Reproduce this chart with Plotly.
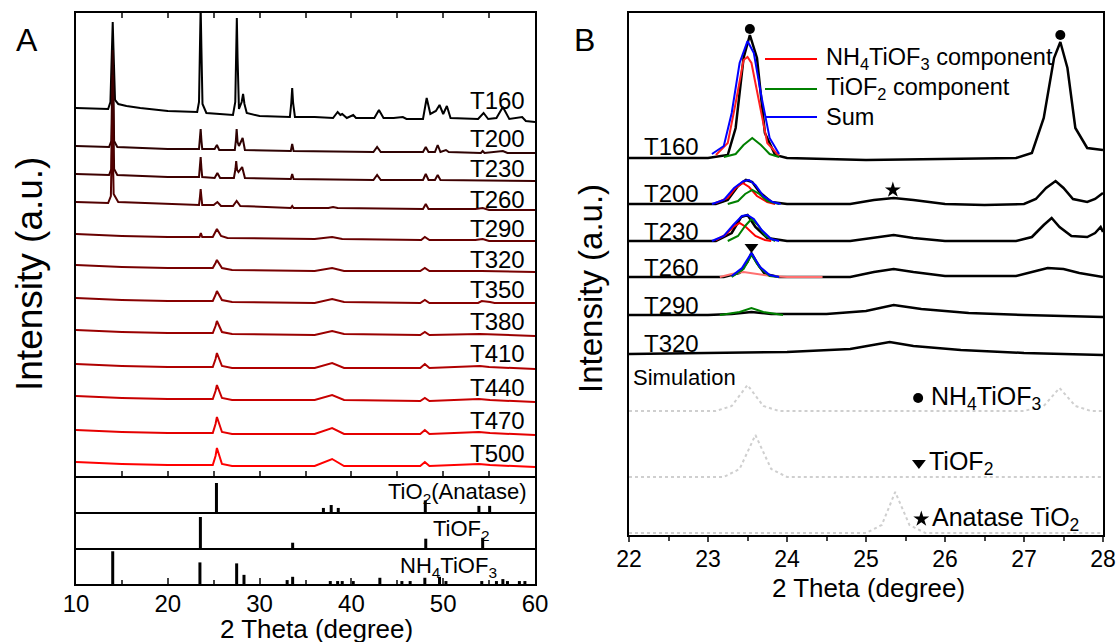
import plotly.graph_objects as go

W, H = 1118, 642
FONT = "Liberation Sans, Arial, sans-serif"


def px(x):
    return x / W


def py(y):
    return 1 - y / H


# ================= Panel A : XRD patterns (2theta, intensity above own baseline) =================
labels_A = ["T160", "T200", "T230", "T260", "T290", "T320", "T350", "T380", "T410", "T440", "T470", "T500"]
offsets_A = [368, 330, 302, 274, 242, 211, 178, 146, 112, 80, 46, 14]
colors_A = ["#000000", "#2e0202", "#3e0000", "#520000", "#680000", "#780000", "#880000",
            "#9a0000", "#b00000", "#c80000", "#e50000", "#ff0000"]

T160 = [(10, 0), (12, -1), (13.5, -1), (13.75, 6), (13.92, 60), (14.0, 86), (14.08, 60), (14.25, 8), (14.6, 4),
        (15.5, 2), (17, 0), (20, -3), (23.2, -4), (23.4, 6), (23.5, 60), (23.58, 102), (23.66, 60), (23.78, 4),
        (24.2, -5), (27.1, -7), (27.35, 6), (27.45, 60), (27.52, 90), (27.6, 50), (27.75, -1), (28.05, 6),
        (28.2, 14), (28.35, 4), (28.6, -5), (30, -8), (33.3, -9), (33.45, 5), (33.55, 20), (33.65, 5), (33.85, -9),
        (36, -9), (38.0, -10), (38.5, -4), (38.8, -7), (39.0, -6), (39.5, -10), (40.2, -7), (40.5, -10),
        (42.5, -10), (43.0, -2), (43.5, -10), (44.6, -10), (45.6, -9), (46, -11), (47.8, -11), (48.2, 10),
        (48.6, -6), (49.2, -3), (49.6, 3), (50.0, -6), (50.4, 2), (50.8, -10), (53.8, -11), (54.4, -5),
        (54.9, -11), (55.8, -10), (56.5, 1), (57.2, -11), (58.6, -9), (59, -13), (60, -14)]
T200 = [(10, 0), (13.6, -1), (13.85, 5), (13.93, 60), (14.0, 96), (14.07, 60), (14.15, 5), (14.5, -1), (20, -3),
        (23.4, -3), (23.5, 6), (23.58, 17), (23.66, 6), (23.75, -3), (25.1, -3), (25.35, 1), (25.6, -4),
        (27.3, -4), (27.42, 6), (27.5, 17), (27.6, 4), (27.75, 0), (28.15, 8), (28.4, -4), (33.4, -5),
        (33.55, 2), (33.7, -5), (42.4, -6), (42.8, -1), (43.2, -6), (47.8, -6), (48.1, -1), (48.4, -6),
        (49.1, -6), (49.4, 1), (49.7, -6), (50.3, -4), (50.6, -6), (54.1, -7), (54.3, -5), (54.5, -7),
        (56.5, -5), (57, -7), (60, -7)]
T230 = [(10, 0), (13.6, -1), (13.85, 5), (13.93, 60), (14.0, 99), (14.07, 60), (14.15, 5), (14.5, -1), (20, -3),
        (23.4, -3), (23.5, 6), (23.58, 17), (23.66, 6), (23.75, -3), (25.1, -4), (25.4, 1), (25.7, -4),
        (27.2, -4), (27.37, 5), (27.45, 13), (27.55, 4), (27.7, 2), (28.1, 7), (28.4, -4), (33.4, -5),
        (33.55, 0), (33.7, -5), (42.4, -6), (42.8, -1), (43.2, -6), (47.8, -6), (48.1, 0), (48.4, -6),
        (49.1, -6), (49.4, -1), (49.7, -6), (60, -7)]
T260 = [(10, 0), (13.5, -1), (13.8, 6), (13.88, 50), (13.95, 82), (14.02, 50), (14.1, 8), (14.6, 0), (20, -2),
        (23.4, -3), (23.5, 5), (23.58, 13), (23.66, 5), (23.75, -3), (25.0, -3), (25.4, 0), (25.8, -4),
        (27.1, -4), (27.5, 1), (27.9, -4), (33.4, -6), (33.55, -4), (33.7, -6), (37.5, -6), (38, -5),
        (38.5, -6), (47.8, -7), (48.1, -2), (48.4, -7), (53.5, -7), (54.3, -6), (55, -8), (60, -8)]
T290 = [(10, 0), (15, -2), (20, -3), (23.45, -3), (23.6, 1), (23.75, -3), (24.9, -3), (25.2, 2), (25.35, 5),
        (25.8, -2), (26.5, -4), (36, -5), (37.9, -3), (39, -5), (47.6, -6), (48.0, -3), (48.5, -6),
        (53.5, -6), (54.3, -5), (55, -7), (60, -7)]
T320 = [(10, 0), (15, -2), (20, -3), (24.9, -3), (25.2, 2), (25.35, 5), (25.9, -3), (27, -5), (36, -6),
        (37.9, -3), (39.2, -6), (47.5, -6), (48.0, -3), (48.5, -6), (54.2, -6), (60, -7)]
T350 = [(10, 0), (15, -2), (20, -3), (24.9, -3), (25.2, 3), (25.35, 7), (25.9, -2), (27, -4), (36, -5),
        (37.9, -1), (39.2, -4), (47.5, -5), (48.0, -2), (48.5, -5), (53.8, -5), (54.2, -3), (55.1, -4),
        (55.6, -5), (60, -5)]
T380 = [(10, 0), (15, -2), (20, -3), (24.9, -3), (25.2, 4), (25.35, 9), (25.9, -2), (27, -4), (36, -5),
        (37.9, -1), (39.2, -4), (47.5, -5), (48.0, -2), (48.5, -5), (54, -4), (60, -6)]
T410 = [(10, 0), (15, -2), (20, -3), (24.9, -3), (25.2, 5), (25.35, 11), (25.9, -2), (27, -4), (36, -4),
        (37.9, 1), (39.2, -4), (47.5, -4), (48.0, 0), (48.5, -4), (54, -2), (55, -3), (60, -5)]
T440 = [(10, 0), (15, -2), (20, -3), (24.9, -3), (25.2, 5), (25.35, 11), (25.9, -2), (27, -4), (36, -4),
        (37.9, 1), (39.2, -4), (47.5, -5), (48.0, -2), (48.5, -5), (53.9, -3), (55.1, -4), (60, -6)]
T470 = [(10, 0), (15, -2), (20, -3), (24.9, -3), (25.2, 6), (25.35, 13), (25.9, -2), (27, -4), (36, -4),
        (37.9, 2), (39.2, -4), (47.5, -4), (48.0, 0), (48.5, -4), (53.9, -2), (55.1, -3), (60, -5)]
T500 = [(10, 0), (15, -2), (20, -3), (24.9, -3), (25.2, 6), (25.35, 14), (25.9, -2), (27, -4), (36, -4),
        (37.9, 3), (39.2, -4), (47.5, -4), (48.0, 0), (48.5, -4), (53.9, -2), (55.1, -3), (60, -5)]
patterns_A = [T160, T200, T230, T260, T290, T320, T350, T380, T410, T440, T470, T500]

# Reference stick patterns (2theta, relative intensity)
anatase_pos = [25.3, 36.95, 37.8, 38.57, 48.05, 53.89, 55.06]
anatase_int = [100, 14, 24, 14, 40, 21, 21]
tiof2_pos = [23.55, 33.6, 48.1, 54.3]
tiof2_int = [100, 17, 30, 33]
nh4_pos = [14.0, 23.5, 27.5, 28.3, 33.0, 33.6, 37.7, 38.5, 39.0, 40.2, 43.1, 45.5, 46.4, 48.0, 49.6, 50.3,
           54.2, 55.8, 56.5, 57.0, 58.3, 58.9]
nh4_int = [100, 66, 63, 28, 12, 22, 9, 9, 9, 9, 19, 9, 9, 19, 22, 9, 9, 9, 15, 9, 9, 9]

# ================= Panel B : zoom 22-28 deg =================
labels_B = ["T160", "T200", "T230", "T260", "T290", "T320"]
offsets_B = [377, 331, 294, 258, 220, 181]
B_T160 = [(22, 0), (23.0, 0), (23.25, 3), (23.35, 30), (23.45, 100), (23.53, 123), (23.62, 100), (23.72, 25),
          (23.85, 3), (24, 0), (25, -2), (26, -1), (26.9, 0), (27.1, 5), (27.25, 40), (27.38, 100),
          (27.46, 116), (27.55, 90), (27.65, 30), (27.8, 10), (28, 8)]
B_T200 = [(22, 0), (23.1, 0), (23.25, 4), (23.38, 18), (23.48, 24), (23.56, 22), (23.65, 12), (23.8, 2),
          (24, 0), (24.8, 0), (25.1, 4), (25.35, 6), (25.6, 4), (26, 0), (26.5, -1), (27.0, 0), (27.15, 5),
          (27.28, 16), (27.4, 23), (27.5, 16), (27.62, 5), (27.8, 2), (27.9, 5), (28, 11)]
B_T230 = [(22, 0), (23.1, 0), (23.3, 8), (23.42, 24), (23.5, 26), (23.6, 14), (23.75, 3), (24, 0), (24.8, 0),
          (25.1, 3), (25.35, 6), (25.6, 3), (26, 0), (26.9, 0), (27.1, 4), (27.25, 16), (27.35, 23),
          (27.45, 14), (27.6, 5), (27.8, 4), (27.9, 8), (27.97, 14), (28, 9)]
B_T260 = [(22, 0), (23.2, 0), (23.4, 4), (23.5, 15), (23.55, 24), (23.62, 14), (23.72, 3), (23.9, 0),
          (24.8, 0), (25.1, 5), (25.35, 8), (25.6, 5), (26, 1), (26.9, 1), (27.15, 6), (27.3, 9), (27.5, 8),
          (27.7, 4), (28, 0)]
B_T290 = [(22, 0), (23, 0), (23.3, 1), (23.55, 3), (23.8, 1), (24.5, 1), (25.0, 4), (25.35, 10), (25.7, 6),
          (26.3, 2), (27, 0), (28, -2)]
B_T320 = [(22, 0), (23, 1), (24, 2), (24.8, 5), (25.3, 12), (25.6, 8), (26.2, 4), (27, 1), (28, -1)]
patterns_B = [B_T160, B_T200, B_T230, B_T260, B_T290, B_T320]

# fitted components keyed by series index
fit_red = {
    0: [(23.1, 3), (23.25, 15), (23.35, 55), (23.45, 98), (23.5, 101), (23.55, 95), (23.65, 55), (23.75, 15), (23.9, 2)],
    1: [(23.1, 1), (23.25, 6), (23.35, 16), (23.44, 21), (23.52, 17), (23.62, 8), (23.75, 2), (23.85, 0)],
    2: [(23.1, 1), (23.22, 6), (23.32, 14), (23.4, 18), (23.48, 14), (23.6, 5), (23.72, 1), (23.8, 0)],
    3: [(23.15, 0), (23.3, 3), (23.45, 5), (23.6, 3), (23.8, 1), (24.0, 0), (24.45, 0)],
}
fit_green = {
    0: [(23.2, 1), (23.35, 4), (23.45, 13), (23.56, 20), (23.67, 13), (23.78, 4), (23.9, 1)],
    1: [(23.25, 0), (23.38, 3), (23.47, 10), (23.56, 14), (23.65, 10), (23.75, 3), (23.9, 0)],
    2: [(23.25, 0), (23.38, 5), (23.47, 15), (23.55, 22), (23.63, 16), (23.73, 5), (23.85, 0)],
    3: [(23.3, 0), (23.45, 8), (23.55, 22), (23.65, 10), (23.78, 1), (23.9, 0)],
    4: [(23.15, 0), (23.4, 3), (23.55, 7), (23.7, 3), (23.95, 0)],
}
fit_blue = {
    0: [(23.05, 4), (23.2, 12), (23.3, 45), (23.4, 95), (23.5, 117), (23.58, 105), (23.68, 60), (23.78, 20), (23.9, 4)],
    1: [(23.05, 0), (23.2, 4), (23.33, 16), (23.45, 23), (23.52, 24), (23.6, 19), (23.7, 8), (23.82, 2), (23.92, 0)],
    2: [(23.05, 0), (23.2, 5), (23.32, 16), (23.43, 25), (23.5, 26), (23.58, 22), (23.68, 11), (23.8, 2), (23.9, 0)],
    3: [(23.3, 1), (23.43, 9), (23.55, 24), (23.66, 10), (23.78, 2), (23.9, 0)],
}
red_colors = {0: "#ff2020", 1: "#ff0000", 2: "#ff0000", 3: "#ff7070"}

# simulated patterns
sim_offsets = [124, 58, 2]
sim_NH4 = [(22, 0), (23.1, 0), (23.3, 5), (23.5, 26), (23.7, 5), (23.9, 0), (27.0, 0), (27.25, 5), (27.45, 23),
           (27.65, 5), (27.85, 0), (28, 0)]
sim_TiOF2 = [(22, 0), (23.2, 0), (23.4, 8), (23.6, 42), (23.8, 8), (24.0, 0), (28, 0)]
sim_anatase = [(22, 0), (25.0, 0), (25.2, 8), (25.37, 41), (25.55, 8), (25.75, 0), (28, 0)]
sims = [sim_NH4, sim_TiOF2, sim_anatase]

# peak markers (2theta, y in panel-B units, symbol)
peak_marks = [(23.53, 506, "circle"), (27.46, 500, "circle"), (25.34, 345, "star"), (23.55, 288, "triangle-down")]
key_marks = [(25.66, 137, "circle"), (25.67, 72, "triangle-down"), (25.70, 16, "star")]

fig = go.Figure()

# ---- panel A traces ----
for lab, off, col, pat in zip(labels_A, offsets_A, colors_A, patterns_A):
    fig.add_trace(go.Scatter(x=[p[0] for p in pat], y=[p[1] + off for p in pat], mode="lines",
                             line=dict(color=col, width=2), xaxis="x", yaxis="y", showlegend=False))


def sticks(pos, inten, xa, ya):
    xs, ys = [], []
    for p, v in zip(pos, inten):
        xs += [p, p, None]
        ys += [0, v, None]
    fig.add_trace(go.Scatter(x=xs, y=ys, mode="lines", line=dict(color="black", width=3),
                             xaxis=xa, yaxis=ya, showlegend=False))


sticks(anatase_pos, anatase_int, "x2", "y2")
sticks(tiof2_pos, tiof2_int, "x3", "y3")
sticks(nh4_pos, nh4_int, "x4", "y4")

# ---- panel B traces ----
for off, pat in zip(sim_offsets, sims):
    fig.add_trace(go.Scatter(x=[p[0] for p in pat], y=[p[1] + off for p in pat], mode="lines",
                             line=dict(color="#cfcfcf", width=2, dash="dot"), xaxis="x5", yaxis="y5",
                             showlegend=False))
for off, pat in zip(offsets_B, patterns_B):
    fig.add_trace(go.Scatter(x=[p[0] for p in pat], y=[p[1] + off for p in pat], mode="lines",
                             line=dict(color="black", width=2.5), xaxis="x5", yaxis="y5", showlegend=False))
for comp, colmap in ((fit_red, None), (fit_green, "#008000"), (fit_blue, "#0000ff")):
    for i, pts in comp.items():
        col = red_colors[i] if colmap is None else colmap
        fig.add_trace(go.Scatter(x=[p[0] for p in pts], y=[p[1] + offsets_B[i] for p in pts], mode="lines",
                                 line=dict(color=col, width=2), xaxis="x5", yaxis="y5", showlegend=False))
for xs, yv, sym in peak_marks + key_marks:
    fig.add_trace(go.Scatter(x=[xs], y=[yv], mode="markers",
                             marker=dict(symbol=sym, size=12 if sym != "circle" else 10, color="black"),
                             xaxis="x5", yaxis="y5", showlegend=False, cliponaxis=False))

# ---- axes ----
LW = 2
xA = [px(76), px(535)]
base = dict(showline=True, linecolor="black", linewidth=LW, showgrid=False, zeroline=False, automargin=False)
layout = dict(
    width=W, height=H, margin=dict(l=0, r=0, t=0, b=0, pad=0, autoexpand=False),
    paper_bgcolor="white", plot_bgcolor="white",
    font=dict(family=FONT, color="black"),
    xaxis=dict(domain=xA, range=[10, 60], anchor="y", showticklabels=False, ticks="inside", ticklen=5,
               tickwidth=1.5, dtick=5, mirror="ticks", **base),
    yaxis=dict(domain=[py(476), py(13)], range=[0, 463], anchor="x", showticklabels=False, ticks="",
               mirror=True, **base),
    xaxis2=dict(domain=xA, range=[10, 60], anchor="y2", showticklabels=False, ticks="", mirror=False, **base),
    yaxis2=dict(domain=[py(512), py(476)], range=[0, 124], anchor="x2", showticklabels=False, ticks="",
                mirror=True, **base),
    xaxis3=dict(domain=xA, range=[10, 60], anchor="y3", showticklabels=False, ticks="", mirror=False, **base),
    yaxis3=dict(domain=[py(548), py(512)], range=[0, 116], anchor="x3", showticklabels=False, ticks="",
                mirror=True, **base),
    xaxis4=dict(domain=xA, range=[10, 60], anchor="y4", showticklabels=True, ticks="inside", ticklen=6,
                tickwidth=2, tickvals=[10, 20, 30, 40, 50, 60], tickfont=dict(size=24, family=FONT),
                ticklabelstandoff=-3,
                minor=dict(tickvals=[15, 25, 35, 45, 55], ticks="inside", ticklen=4, tickwidth=2),
                mirror=False, **base),
    yaxis4=dict(domain=[py(584), py(548)], range=[0, 110], anchor="x4", showticklabels=False, ticks="",
                mirror=True, **base),
    xaxis5=dict(domain=[px(629), px(1103)], range=[22, 28], anchor="y5", ticks="outside", ticklen=5,
                tickwidth=2, tickvals=[22, 23, 24, 25, 26, 27, 28], tickfont=dict(size=23, family=FONT),
                ticklabelstandoff=-3,
                minor=dict(tickvals=[22.5, 23.5, 24.5, 25.5, 26.5, 27.5], ticks="outside", ticklen=4,
                           tickwidth=2),
                mirror=True, **base),
    yaxis5=dict(domain=[py(535), py(13)], range=[0, 522], anchor="x5", showticklabels=False, ticks="",
                mirror=True, **base),
)
fig.update_layout(**layout)

ann = []


def text(x, y, s, size, xanchor="center", yanchor="middle", angle=0):
    ann.append(dict(x=px(x), y=py(y), xref="paper", yref="paper", text=s, showarrow=False,
                    xanchor=xanchor, yanchor=yanchor, textangle=angle,
                    font=dict(size=size, family=FONT, color="black")))


# panel letters & titles
text(27, 40, "A", 32)
text(584, 40, "B", 32)
text(316, 629, "2 Theta (degree)", 26)
text(868, 588, "2 Theta (degree)", 26)
text(30, 274, "Intensity (a.u.)", 37, angle=-90)
text(590, 289, "Intensity (a.u.)", 33, angle=-90)

# panel A series labels
labA_y = [100, 139, 169, 199, 228, 259, 289, 322, 354, 387, 420, 453]
for lab, yy in zip(labels_A, labA_y):
    text(527, yy, lab, 24, xanchor="right")
text(529, 493, "TiO<sub>2</sub>(Anatase)", 22, xanchor="right")
text(492, 530, "TiOF<sub>2</sub>", 22, xanchor="right")
text(499, 567, "NH<sub>4</sub>TiOF<sub>3</sub>", 22, xanchor="right")

# panel B labels
labB_y = [147, 194, 231, 267, 306, 344]
for lab, yy in zip(labels_B, labB_y):
    text(642, yy, lab, 24, xanchor="left")
text(631, 377, "Simulation", 22, xanchor="left")
text(929, 398, "NH<sub>4</sub>TiOF<sub>3</sub>", 25, xanchor="left")
text(927, 463, "TiOF<sub>2</sub>", 25, xanchor="left")
text(930, 519, "Anatase TiO<sub>2</sub>", 25, xanchor="left")

# fit legend
shapes = []
for yy, col, lab in ((59, "#ff0000", "NH<sub>4</sub>TiOF<sub>3</sub> component"),
                     (89, "#008000", "TiOF<sub>2</sub> component"),
                     (117, "#0000ff", "Sum")):
    shapes.append(dict(type="line", xref="paper", yref="paper", x0=px(765), x1=px(817), y0=py(yy), y1=py(yy),
                       line=dict(color=col, width=2)))
    text(824, yy, lab, 23.5, xanchor="left")

fig.update_layout(annotations=ann, shapes=shapes)
fig.write_html("out.html")
